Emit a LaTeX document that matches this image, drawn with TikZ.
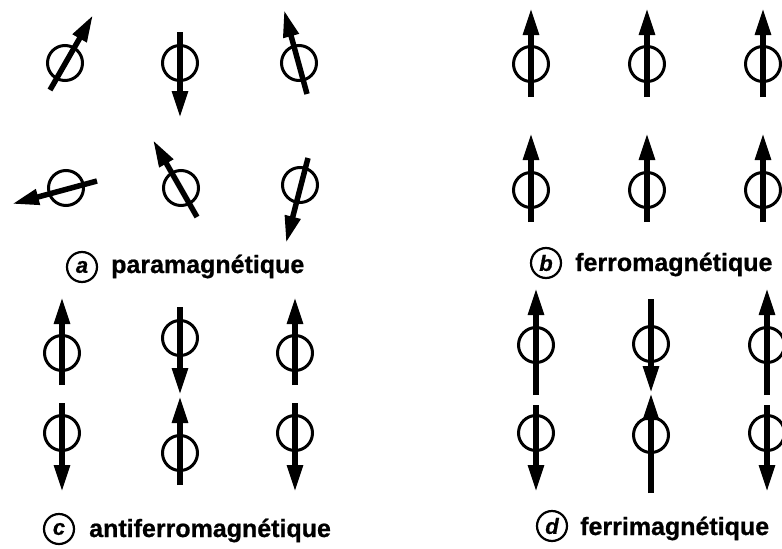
\documentclass[tikz,border=0pt]{standalone}
\usepackage{fontspec}
\setmainfont{Liberation Sans}
\newfontfamily\capfont{Liberation Sans Bold}[FakeBold=0.8]
\newfontfamily\capitfont{Liberation Sans Bold Italic}[FakeBold=0.6]
\usetikzlibrary{arrows.meta}
\tikzset{
  ring/.style={line width=3pt},
  spinarrow/.style={line width=5.5pt,-{Triangle[length=27pt,width=15pt]}},
  caption/.style={anchor=base west,inner sep=0pt,font=\fontsize{25}{30}\selectfont\capfont},
  letterring/.style={circle,draw,line width=2.2pt,minimum size=30pt,inner sep=0pt,font=\fontsize{22}{26}\selectfont\capitfont},
}
\newcommand\spinat[3]{\draw[ring] #1 circle[radius=17.5]; \draw[spinarrow] #2 -- #3;}
\begin{document}
\begin{tikzpicture}[x=1pt,y=-1pt]
\useasboundingbox (0,0) rectangle (782,549);
% (a) paramagnetique
\spinat{(65,63)}{(50,90)}{(93,15)}
\spinat{(180,63)}{(180,32)}{(180,118)}
\spinat{(299,63)}{(307,94)}{(284,10)}
\spinat{(66,188)}{(97,181)}{(12,204)}
\spinat{(181,188)}{(197,217)}{(153,140)}
\spinat{(300,185)}{(308,158)}{(286,243)}
\node[letterring] (la) at (82,267) {a};
\node[caption] (ta) at (111,273) {paramagnétique};
% (b) ferromagnetique
\foreach \x in {531,647,763}{
  \spinat{(\x,64)}{(\x,97)}{(\x,8)}
  \spinat{(\x,190)}{(\x,222)}{(\x,133)}
}
\node[letterring] (lb) at (546,263) {b};
\node[caption] (tb) at (575,271) {ferromagnétique};
% (c) antiferromagnetique
\foreach \x in {62,295}{
  \spinat{(\x,353)}{(\x,385)}{(\x,297)}
  \spinat{(\x,433)}{(\x,403)}{(\x,492)}
}
\spinat{(180,338)}{(180,307)}{(180,395)}
\spinat{(180,453)}{(180,485)}{(180,396)}
\node[letterring] (lc) at (59,529) {c};
\node[caption] (tc) at (89,537) {antiferromagnétique};
% (d) ferrimagnetique
\foreach \x in {536,767}{
  \spinat{(\x,345)}{(\x,395)}{(\x,288)}
  \spinat{(\x,433)}{(\x,405)}{(\x,492)}
}
\spinat{(651,344)}{(651,299)}{(651,393)}
\spinat{(651,435)}{(651,493)}{(651,393)}
\node[letterring] (ld) at (552,526) {d};
\node[caption] (td) at (580,535) {ferrimagnétique};
\end{tikzpicture}
\end{document}
